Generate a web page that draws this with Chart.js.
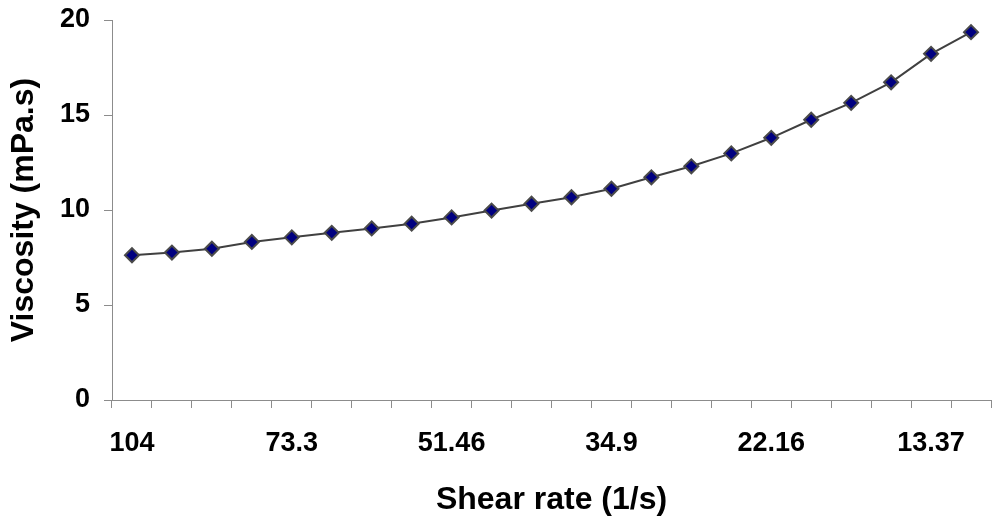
<!DOCTYPE html>
<html>
<head>
<meta charset="utf-8">
<script src="https://cdn.jsdelivr.net/npm/chart.js@4.4.1/dist/chart.umd.min.js"></script>
<style>
	html, body { margin: 0; padding: 0; background: #fff; }
	#wrap { width: 1000px; height: 522px; position: relative; }
</style>
</head>
<body>
<div id="wrap"><canvas id="myChart"></canvas></div>
<script>
// shear rate labels (only every 4th one is printed on the original)
const shearLabels = [
	'104', '', '', '', '73.3', '', '', '', '51.46', '', '', '',
	'34.9', '', '', '', '22.16', '', '', '', '13.37', '',
];
// viscosity in mPa.s
const viscosity = [
	7.62, 7.76, 7.96, 8.32, 8.56, 8.8, 9.03, 9.28, 9.61, 9.97, 10.33,
	10.67, 11.12, 11.72, 12.3, 12.98, 13.8, 14.75, 15.64, 16.72, 18.22, 19.36,
];
const yTicks = [0, 5, 10, 15, 20];

const axisGrey = '#8c8c8c';
const fontFamily = '"Liberation Sans", Arial, sans-serif';

const ctx = document.getElementById('myChart').getContext('2d');
const myChart = new Chart(ctx, {
	type: 'line',
	data: {
		labels: shearLabels,
		datasets: [
			{
				label: 'Viscosity',
				data: viscosity,
				borderColor: '#404040',
				borderWidth: 2,
				pointStyle: 'rectRot',
				pointRadius: 7,
				pointBorderWidth: 2,
				pointBackgroundColor: '#000080',
				pointBorderColor: '#4a4a4a',
				tension: 0,
			},
		],
	},
	options: {
		responsive: true,
		maintainAspectRatio: false,
		animation: false,
		layout: { padding: { top: 20, right: 9, left: 0, bottom: 0 } },
		plugins: {
			legend: { display: false },
			tooltip: { enabled: false },
		},
		scales: {
			x: {
				offset: true,
				grid: {
					offset: true,
					drawOnChartArea: false,
					drawTicks: true,
					tickLength: 8,
					color: axisGrey,
				},
				border: { color: axisGrey, width: 1 },
				ticks: {
					autoSkip: false,
					maxRotation: 0,
					padding: 19,
					color: '#000',
					font: { family: fontFamily, size: 27, weight: 'bold' },
				},
				title: {
					display: true,
					text: 'Shear rate (1/s)',
					color: '#000',
					padding: { top: 0, bottom: 6 },
					font: { family: fontFamily, size: 32, weight: 'bold', lineHeight: 1 },
				},
				afterFit: (scale) => { scale.height = 122; },
			},
			y: {
				min: 0,
				max: 20,
				afterBuildTicks: (scale) => {
					scale.ticks = yTicks.map((v) => ({ value: v }));
				},
				grid: {
					drawOnChartArea: false,
					drawTicks: true,
					tickLength: 8,
					color: axisGrey,
				},
				border: { color: axisGrey, width: 1 },
				ticks: {
					padding: 14,
					color: '#000',
					font: { family: fontFamily, size: 27, weight: 'bold' },
				},
				title: {
					display: true,
					text: 'Viscosity (mPa.s)',
					color: '#000',
					padding: { top: 8, bottom: 0 },
					font: { family: fontFamily, size: 32, weight: 'bold', lineHeight: 1 },
				},
				afterFit: (scale) => {
					scale.width = 112;
					// keep the top label from pushing the plot area down
					scale.paddingTop = 0;
					scale.paddingBottom = 0;
				},
			},
		},
	},
});
</script>
</body>
</html>
